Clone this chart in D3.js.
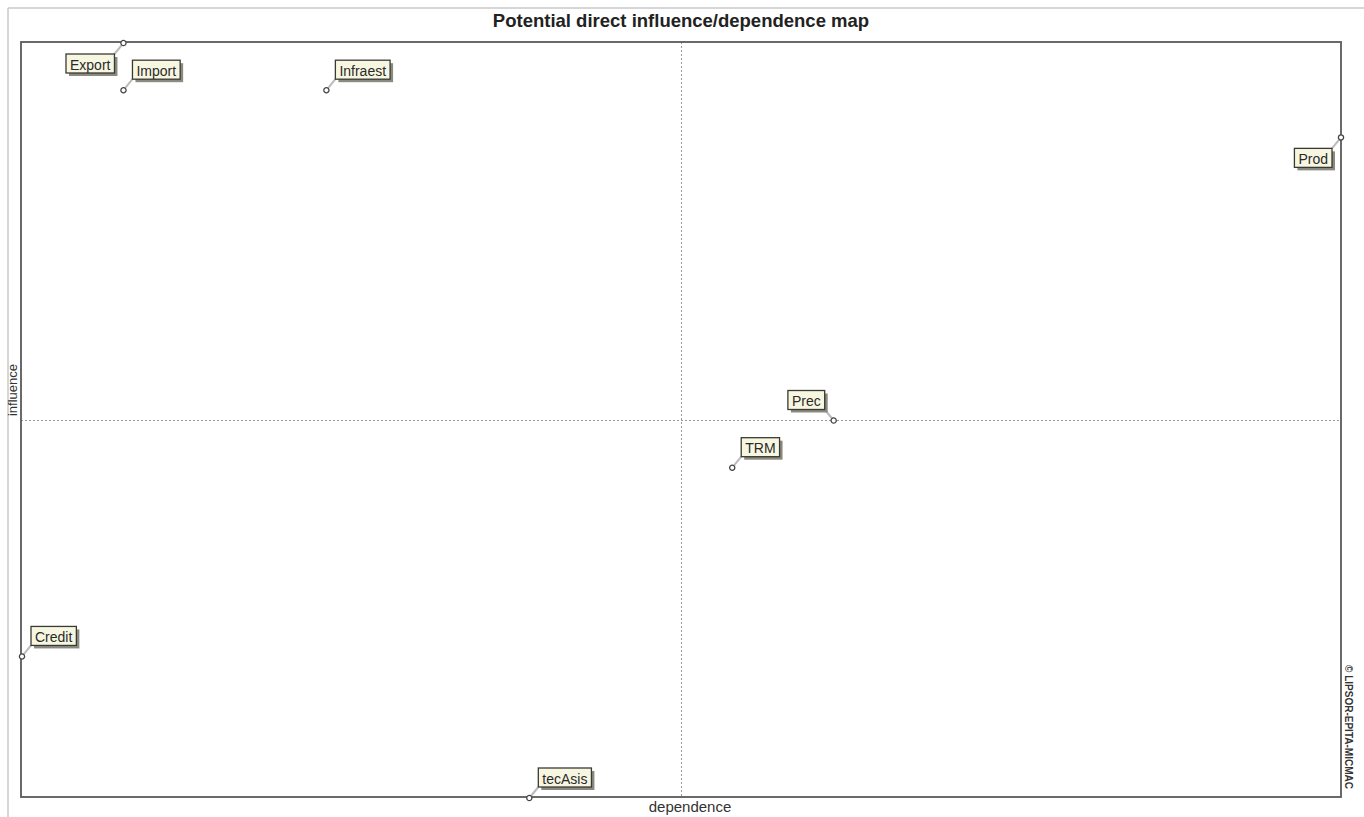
<!DOCTYPE html>
<html>
<head>
<meta charset="utf-8">
<script src="https://cdn.jsdelivr.net/npm/d3@7"></script>
<style>
  body { margin: 0; background: #fff; }
  svg { display: block; font-family: Arial, "Liberation Sans", sans-serif; }
</style>
</head>
<body>
<svg id="chart" width="1364" height="817"></svg>
<script>
// variables of the MICMAC analysis
var variables = ["Export", "Import", "Infraest", "Prod", "Prec", "TRM", "Credit", "tecAsis"];
// direct dependence (x) and direct influence (y)
var dependence = [8, 8, 10, 20, 15, 14, 7, 12];
var influence  = [18, 17, 17, 16, 10, 9, 5, 2];
// side of the point on which each label sits
var labelSide = ["sw", "ne", "ne", "sw", "nw", "ne", "ne", "ne"];

var svg = d3.select("#chart");

// plot frame
var frame = { left: 21, top: 42, right: 1341, bottom: 797 };

var x = d3.scaleLinear()
    .domain(d3.extent(dependence))
    .range([frame.left + 1, frame.right]);
var y = d3.scaleLinear()
    .domain(d3.extent(influence))
    .range([frame.bottom + 1, frame.top + 1]);

// outer light border (top and left only)
svg.append("line")
    .attr("x1", 8).attr("y1", 8).attr("x2", 1364).attr("y2", 8)
    .attr("stroke", "#c8c8c8").attr("stroke-width", 1.5);
svg.append("line")
    .attr("x1", 8).attr("y1", 8).attr("x2", 8).attr("y2", 817)
    .attr("stroke", "#c8c8c8").attr("stroke-width", 1.5);

// title
svg.append("text")
    .attr("x", 681).attr("y", 27)
    .attr("text-anchor", "middle")
    .style("font-size", "18.5px").style("font-weight", "bold")
    .attr("fill", "#222")
    .text("Potential direct influence/dependence map");

// crosshair at the middle of each axis
var xMid = d3.mean(x.domain()), yMid = d3.mean(y.domain());
svg.append("line")
    .attr("x1", x(xMid)).attr("x2", x(xMid))
    .attr("y1", frame.top).attr("y2", frame.bottom)
    .attr("stroke", "#999").attr("stroke-width", 1)
    .attr("stroke-dasharray", "2,2");
svg.append("line")
    .attr("x1", frame.left).attr("x2", frame.right)
    .attr("y1", y(yMid)).attr("y2", y(yMid))
    .attr("stroke", "#999").attr("stroke-width", 1)
    .attr("stroke-dasharray", "2,2");

// frame
svg.append("rect")
    .attr("x", frame.left).attr("y", frame.top)
    .attr("width", frame.right - frame.left)
    .attr("height", frame.bottom - frame.top)
    .attr("fill", "none")
    .attr("stroke", "#5a5a5a").attr("stroke-width", 1.8);

// axis titles
svg.append("text")
    .attr("x", 690).attr("y", 812)
    .attr("text-anchor", "middle")
    .style("font-size", "15px")
    .attr("fill", "#333")
    .text("dependence");
svg.append("text")
    .attr("transform", "translate(17,390) rotate(-90)")
    .attr("text-anchor", "middle")
    .style("font-size", "13px")
    .attr("fill", "#333")
    .text("influence");

svg.append("text")
    .attr("transform", "translate(1345,727) rotate(90)")
    .attr("text-anchor", "middle")
    .style("font-size", "10px").style("font-weight", "bold")
    .attr("fill", "#333")
    .text("© LIPSOR-EPITA-MICMAC");

// points and labels
var data = variables.map(function (v, i) {
    return { name: v, dep: dependence[i], inf: influence[i], side: labelSide[i] };
});

var g = svg.selectAll("g.var")
    .data(data)
    .enter()
    .append("g")
    .attr("class", "var")
    .attr("transform", d => "translate(" + x(d.dep) + "," + y(d.inf) + ")");

// label text first, to measure
var lbl = g.append("g").attr("class", "lbl");
var txt = lbl.append("text")
    .style("font-size", "14px")
    .attr("fill", "#2a2a2a")
    .attr("dominant-baseline", "central")
    .text(d => d.name);

var dx = 9, dy = 11, boxH = 19, pad = 4;
txt.each(function (d) {
    var w = this.getComputedTextLength() + pad * 2;
    d.w = w;
    // corner of the box next to the point
    var cx = d.side.indexOf("e") >= 0 ? dx : -dx;
    var cy = d.side.indexOf("n") >= 0 ? -dy : dy;
    d.cx = cx; d.cy = cy;
    d.bx = cx > 0 ? cx : cx - w;
    d.by = cy < 0 ? cy - boxH : cy;
});

// leader lines
g.insert("line", ".lbl")
    .attr("x1", 0).attr("y1", 0)
    .attr("x2", d => d.cx).attr("y2", d => d.cy)
    .attr("stroke", "#bbb").attr("stroke-width", 2);

// shadow, box
lbl.insert("rect", "text")
    .attr("x", d => d.bx + 3).attr("y", d => d.by + 3)
    .attr("width", d => d.w).attr("height", boxH)
    .attr("fill", "#8a8a80");
lbl.insert("rect", "text")
    .attr("x", d => d.bx).attr("y", d => d.by)
    .attr("width", d => d.w).attr("height", boxH)
    .attr("fill", "#f7f7e1")
    .attr("stroke", "#3a3a34").attr("stroke-width", 1.3);
txt.attr("x", d => d.bx + pad).attr("y", d => d.by + boxH / 2 + 1);

// markers
g.append("circle")
    .attr("r", 2.6)
    .attr("fill", "#fff")
    .attr("stroke", "#444").attr("stroke-width", 1.3);
</script>
</body>
</html>
